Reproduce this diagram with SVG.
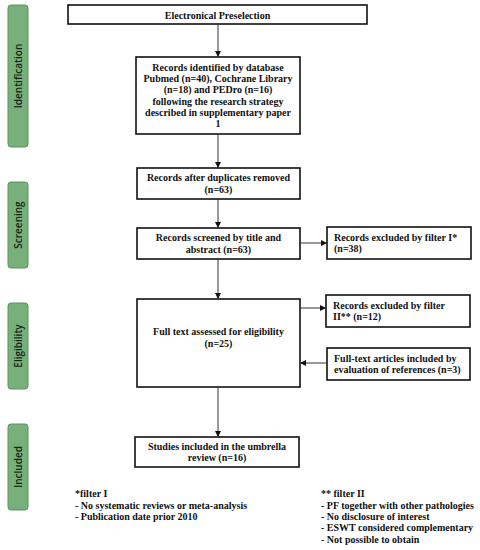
<svg xmlns="http://www.w3.org/2000/svg" width="480" height="550" viewBox="0 0 480 550">
<defs>
<marker id="ah" viewBox="0 0 10 10" refX="10" refY="5" markerWidth="6" markerHeight="6" orient="auto" markerUnits="userSpaceOnUse">
<path d="M0,0 L10,5 L0,10 z" fill="#111"/>
</marker>
</defs>
<style>
.box{fill:#fff;stroke:#111;stroke-width:1.6}
.side{fill:#77b07a;stroke:#5f9163;stroke-width:1}
.sl{font-family:"Open Sans","Noto Sans",sans-serif;font-size:10px;font-weight:600;fill:#142414;text-anchor:middle}
.t{font-family:"Liberation Serif",serif;font-weight:bold;font-size:10px;fill:#111}
.c{text-anchor:middle}
.conn{stroke:#333;stroke-width:1;fill:none;marker-end:url(#ah)}
</style>
<rect width="480" height="550" fill="#fff"/>
<g id="side-identification">
<rect class="side" x="8" y="5" width="20" height="142" rx="3"/>
<text class="sl" transform="translate(21.5,76) rotate(-90)">Identification</text>
</g>
<g id="side-screening">
<rect class="side" x="8" y="182" width="20" height="86" rx="3"/>
<text class="sl" transform="translate(21.5,225) rotate(-90)">Screening</text>
</g>
<g id="side-eligibility">
<rect class="side" x="8" y="303" width="20" height="86" rx="3"/>
<text class="sl" transform="translate(21.5,346) rotate(-90)">Eligibility</text>
</g>
<g id="side-included">
<rect class="side" x="8" y="424" width="20" height="86" rx="3"/>
<text class="sl" transform="translate(21.5,467) rotate(-90)">Included</text>
</g>
<g id="n-preselection">
<rect class="box" x="68" y="5" width="299" height="19"/>
<text class="t c" x="217.5" y="18.5">Electronical Preselection</text>
</g>
<g id="n-identified">
<rect class="box" x="136" y="57" width="164" height="77"/>
<text class="t c" x="218" y="70.5">Records identified by database</text>
<text class="t c" x="218" y="82">Pubmed (n=40), Cochrane Library</text>
<text class="t c" x="218" y="93">(n=18) and PEDro (n=16)</text>
<text class="t c" x="218" y="104.5">following the research strategy</text>
<text class="t c" x="218" y="116">described in supplementary paper</text>
<text class="t c" x="218" y="127">1</text>
</g>
<g id="n-duplicates">
<rect class="box" x="137" y="168" width="163" height="31"/>
<text class="t c" x="218.5" y="181">Records after duplicates removed</text>
<text class="t c" x="218.5" y="192.5">(n=63)</text>
</g>
<g id="n-screened">
<rect class="box" x="137" y="228" width="163" height="31"/>
<text class="t c" x="218.5" y="241">Records screened by title and</text>
<text class="t c" x="218.5" y="252.5">abstract (n=63)</text>
</g>
<g id="n-excl1">
<rect class="box" x="327" y="227" width="144" height="32"/>
<text class="t" x="334" y="240.5">Records excluded by filter I*</text>
<text class="t" x="334" y="252">(n=38)</text>
</g>
<g id="n-fulltext">
<rect class="box" x="137" y="299" width="163" height="88"/>
<text class="t c" x="218.5" y="335">Full text assessed for eligibility</text>
<text class="t c" x="218.5" y="346.5">(n=25)</text>
</g>
<g id="n-excl2">
<rect class="box" x="326" y="295" width="144" height="32"/>
<text class="t" x="333" y="308.5">Records excluded by filter</text>
<text class="t" x="333" y="320">II** (n=12)</text>
</g>
<g id="n-refs">
<rect class="box" x="327" y="348" width="143" height="32"/>
<text class="t" x="334" y="361.5">Full-text articles included by</text>
<text class="t" x="334" y="373">evaluation of references (n=3)</text>
</g>
<g id="n-included">
<rect class="box" x="135" y="437" width="164" height="30"/>
<text class="t c" x="217" y="449.5">Studies included in the umbrella</text>
<text class="t c" x="217" y="461">review (n=16)</text>
</g>
<g id="connectors">
<line class="conn" x1="218" y1="24" x2="218" y2="57"/>
<line class="conn" x1="218" y1="134" x2="218" y2="168"/>
<line class="conn" x1="218" y1="199" x2="218" y2="228"/>
<line class="conn" x1="218" y1="259" x2="218" y2="299"/>
<line class="conn" x1="300" y1="243" x2="327" y2="243"/>
<line class="conn" x1="300" y1="308" x2="326" y2="308"/>
<line class="conn" x1="327" y1="363" x2="300" y2="363"/>
<line class="conn" x1="218" y1="387" x2="218" y2="437"/>
</g>
<g id="notes">
<text class="t" x="75" y="497">*filter I</text>
<text class="t" x="75" y="508.5">- No systematic reviews or meta-analysis</text>
<text class="t" x="75" y="520">- Publication date prior 2010</text>
<text class="t" x="321" y="497">** filter II</text>
<text class="t" x="321" y="508.5">- PF together with other pathologies</text>
<text class="t" x="321" y="520">- No disclosure of interest</text>
<text class="t" x="321" y="531">- ESWT considered complementary</text>
<text class="t" x="321" y="542.5">- Not possible to obtain</text>
</g>
</svg>
